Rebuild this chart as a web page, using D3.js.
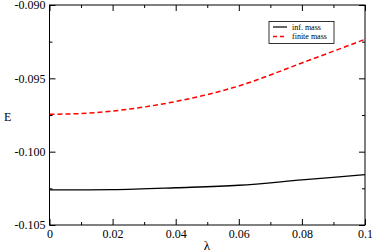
<!DOCTYPE html>
<html>
<head>
<meta charset="utf-8">
<script src="https://cdn.jsdelivr.net/npm/d3@7"></script>
<style>
  body { margin: 0; background: #fff; }
  text { font-family: "Liberation Serif", "DejaVu Serif", serif; fill: #000; }
</style>
</head>
<body>
<div id="chart"></div>
<script>
// data
var lambda = [0, 0.01, 0.02, 0.04, 0.06, 0.08, 0.1];
var infMass = [-0.10261, -0.10261, -0.10259, -0.10246, -0.10229, -0.10193, -0.10157];
var finiteMass = [-0.09745, -0.0974, -0.09723, -0.09658, -0.09552, -0.09395, -0.09234];
var xTicks = [0, 0.02, 0.04, 0.06, 0.08, 0.1];
var yTicks = [-0.105, -0.1, -0.095, -0.09];
var seriesNames = ["inf. mass", "finite mass"];

var width = 374, height = 252;
var plotLeft = 49.5, plotRight = 365, plotTop = 5, plotBottom = 225;

var svg = d3.select("#chart").append("svg")
  .attr("width", width)
  .attr("height", height);

var xScale = d3.scaleLinear().domain([0, 0.1]).range([plotLeft, plotRight]);
var yScale = d3.scaleLinear().domain([-0.105, -0.09]).range([plotBottom, plotTop]);

var xMinor = [0.01, 0.03, 0.05, 0.07, 0.09];
var yMinor = [-0.1025, -0.0975, -0.0925];

function xFmt(d) { return d === 0 ? "0" : (d === 0.1 ? "0.1" : d3.format(".2f")(d)); }
function yFmt(d) { return d3.format(".3f")(d).replace("−", "-"); }

// frame
svg.append("rect")
  .attr("x", plotLeft).attr("y", plotTop)
  .attr("width", plotRight - plotLeft).attr("height", plotBottom - plotTop)
  .attr("fill", "none").attr("stroke", "#000").attr("stroke-width", 1);

// ticks (inward, on all four sides)
function drawTicks(g) {
  g.selectAll("path.domain").remove();
  g.selectAll("line").attr("stroke", "#000");
}

svg.append("g").attr("transform", "translate(0," + plotBottom + ")")
  .call(d3.axisBottom(xScale).tickValues(xTicks).tickSize(-6).tickPadding(4).tickFormat(xFmt))
  .call(drawTicks)
  .selectAll("text").attr("font-size", 12).attr("font-family", "Liberation Serif");
svg.append("g").attr("transform", "translate(0," + plotBottom + ")")
  .call(d3.axisBottom(xScale).tickValues(xMinor).tickSize(-3).tickFormat(""))
  .call(drawTicks);
svg.append("g").attr("transform", "translate(0," + plotTop + ")")
  .call(d3.axisTop(xScale).tickValues(xTicks).tickSize(-6).tickFormat(""))
  .call(drawTicks);
svg.append("g").attr("transform", "translate(0," + plotTop + ")")
  .call(d3.axisTop(xScale).tickValues(xMinor).tickSize(-3).tickFormat(""))
  .call(drawTicks);

svg.append("g").attr("transform", "translate(" + plotLeft + ",0)")
  .call(d3.axisLeft(yScale).tickValues(yTicks).tickSize(-6).tickPadding(4).tickFormat(yFmt))
  .call(drawTicks)
  .selectAll("text").attr("font-size", 12).attr("font-family", "Liberation Serif");
svg.append("g").attr("transform", "translate(" + plotLeft + ",0)")
  .call(d3.axisLeft(yScale).tickValues(yMinor).tickSize(-3).tickFormat(""))
  .call(drawTicks);
svg.append("g").attr("transform", "translate(" + plotRight + ",0)")
  .call(d3.axisRight(yScale).tickValues(yTicks).tickSize(-6).tickFormat(""))
  .call(drawTicks);
svg.append("g").attr("transform", "translate(" + plotRight + ",0)")
  .call(d3.axisRight(yScale).tickValues(yMinor).tickSize(-3).tickFormat(""))
  .call(drawTicks);

// axis titles
svg.append("text").attr("x", 4).attr("y", 121).attr("font-size", 12).text("E");
svg.append("text").attr("x", 207).attr("y", 250)
  .attr("text-anchor", "middle").attr("font-size", 13).text("λ");

// lines
var line = function(vals) {
  return d3.line()
    .x(function(d, i) { return xScale(lambda[i]); })
    .y(function(d) { return yScale(d); })
    .curve(d3.curveMonotoneX)(vals);
};

svg.append("path").attr("d", line(infMass))
  .attr("fill", "none").attr("stroke", "#000").attr("stroke-width", 1.3);
svg.append("path").attr("d", line(finiteMass))
  .attr("fill", "none").attr("stroke", "#ff0000").attr("stroke-width", 1.5)
  .attr("stroke-dasharray", "5,3");

// legend
var lg = svg.append("g");
lg.append("rect").attr("x", 269).attr("y", 21.5).attr("width", 65).attr("height", 22)
  .attr("fill", "#fff").attr("stroke", "#000").attr("stroke-width", 0.8);
lg.append("line").attr("x1", 273).attr("x2", 287).attr("y1", 27).attr("y2", 27)
  .attr("stroke", "#000").attr("stroke-width", 1.2);
lg.append("line").attr("x1", 273).attr("x2", 287).attr("y1", 36.5).attr("y2", 36.5)
  .attr("stroke", "#ff0000").attr("stroke-width", 1.3).attr("stroke-dasharray", "4,3");
lg.append("text").attr("x", 292).attr("y", 29.5).attr("font-size", 8).text(seriesNames[0]);
lg.append("text").attr("x", 292).attr("y", 39).attr("font-size", 8).text(seriesNames[1]);
</script>
</body>
</html>
